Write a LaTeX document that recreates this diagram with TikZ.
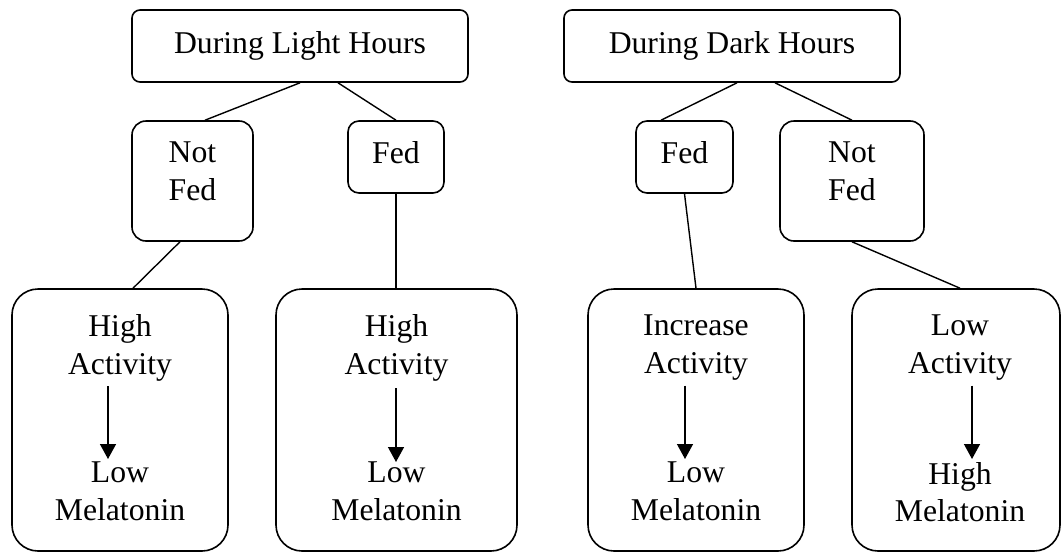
\documentclass[tikz,border=0pt]{standalone}
\usepackage{fontspec}
\setmainfont{Liberation Serif}
\usetikzlibrary{arrows.meta}
\begin{document}
\begin{tikzpicture}[x=1pt,y=-1pt,
  box/.style={draw, line width=1.6pt, inner sep=0pt},
  lbl/.style={inner sep=0pt, align=center, font=\fontsize{31.7}{37.5}\selectfont},
  conn/.style={line width=1.4pt},
  arr/.style={line width=1.4pt, -{Triangle[width=16pt,length=15pt]}}]
\useasboundingbox (0,0) rectangle (1062,552);
% header boxes
\node[box, rounded corners=8pt, minimum width=336pt, minimum height=72pt, font=\fontsize{31.7}{37.5}\selectfont] (L) at (300,46) {During Light Hours};
\node[box, rounded corners=8pt, minimum width=336pt, minimum height=72pt, font=\fontsize{31.7}{37.5}\selectfont] (D) at (732,46) {During Dark Hours};
% second level
\node[box, rounded corners=14pt, minimum width=121pt, minimum height=120pt] (NF1) at (192.5,181) {};
\node[lbl, anchor=north] (tNF1) at (192.5,142) {Not\\Fed};
\node[box, rounded corners=11pt, minimum width=96pt, minimum height=72pt] (F1) at (396,157) {};
\node[lbl, anchor=north] (tF1) at (396,141.5) {Fed};
\node[box, rounded corners=11pt, minimum width=97pt, minimum height=72pt] (F2) at (684.5,157) {};
\node[lbl, anchor=north] (tF2) at (684.5,141.5) {Fed};
\node[box, rounded corners=14pt, minimum width=144pt, minimum height=120pt] (NF2) at (852,181) {};
\node[lbl, anchor=north] (tNF2) at (852,142) {Not\\Fed};
% bottom boxes
\node[box, rounded corners=26pt, minimum width=216pt, minimum height=262pt] (B1) at (120,420) {};
\node[box, rounded corners=26pt, minimum width=241pt, minimum height=262pt] (B2) at (396.5,420) {};
\node[box, rounded corners=26pt, minimum width=216pt, minimum height=262pt] (B3) at (696,420) {};
\node[box, rounded corners=26pt, minimum width=208pt, minimum height=262pt] (B4) at (956,420) {};
\node[lbl, anchor=north] (a1) at (120,314.5) {High\\Activity};
\node[lbl, anchor=north] (m1) at (120,462) {Low\\Melatonin};
\node[lbl, anchor=north] (a2) at (396.5,314.5) {High\\Activity};
\node[lbl, anchor=north] (m2) at (396.5,462) {Low\\Melatonin};
\node[lbl, anchor=north] (a3) at (696,315) {Increase\\Activity};
\node[lbl, anchor=north] (m3) at (696,462) {Low\\Melatonin};
\node[lbl, anchor=north] (a4) at (960,315) {Low\\Activity};
\node[lbl, anchor=north] (m4) at (960,462) {High\\Melatonin};
% connectors
\draw[conn] (L.south) -- ([xshift=12.5pt]NF1.north);
\draw[conn] ([xshift=38pt]L.south) -- (F1.north);
\draw[conn] ([xshift=5pt]D.south) -- ([xshift=-23.5pt]F2.north);
\draw[conn] ([xshift=43pt]D.south) -- (NF2.north);
\draw[conn] ([xshift=-12.5pt]NF1.south) -- ([xshift=13pt]B1.north);
\draw[conn] (F1.south) -- (F1.south |- B2.north);
\draw[conn] (F2.south) -- (B3.north);
\draw[conn] (NF2.south) -- ([xshift=4pt]B4.north);
% arrows
\draw[arr] ([xshift=-12pt,yshift=-5pt]a1.south) -- ([xshift=-12pt,yshift=3pt]m1.north);
\draw[arr] ([xshift=-0.5pt,yshift=-7pt]a2.south) -- ([xshift=-0.5pt,yshift=0pt]m2.north);
\draw[arr] ([xshift=-11pt,yshift=-5pt]a3.south) -- ([xshift=-11pt,yshift=3pt]m3.north);
\draw[arr] ([xshift=12pt,yshift=-5pt]a4.south) -- ([xshift=12pt,yshift=3pt]m4.north);
\end{tikzpicture}
\end{document}
